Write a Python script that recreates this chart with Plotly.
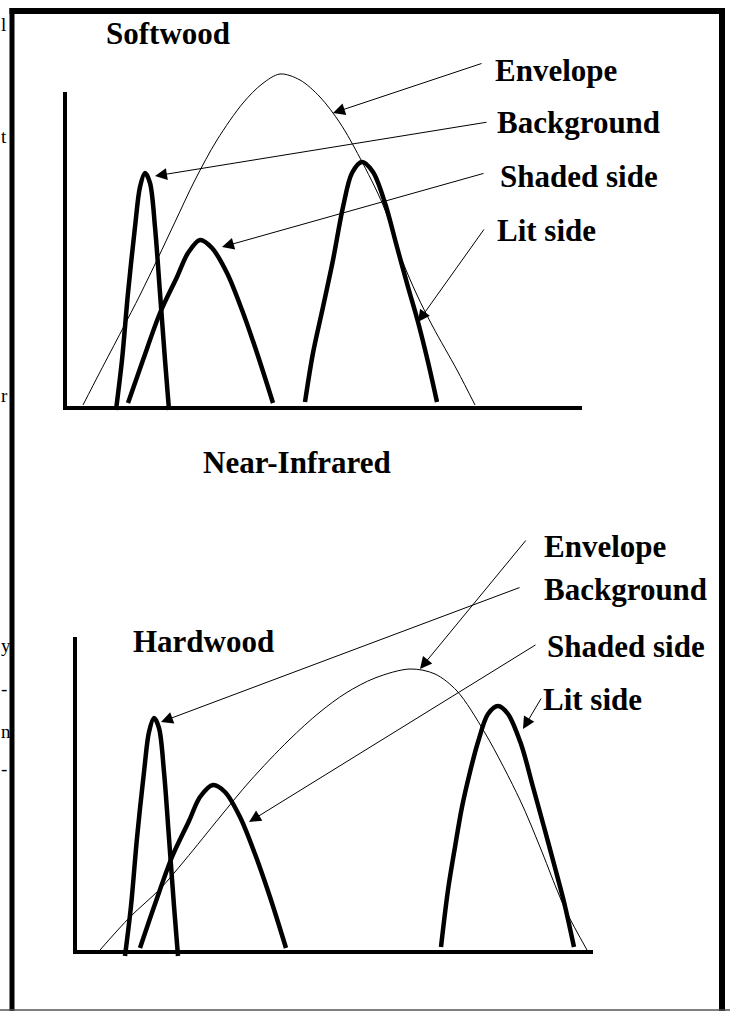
import plotly.graph_objects as go

W, H = 730, 1011

# ---------------- Softwood panel (units: arbitrary, origin at axes corner) ----------------
sw_env_x = [18, 35, 57, 75, 93, 110, 130, 152, 178, 197, 215, 235, 255, 275, 295, 318, 337, 352, 368, 392, 410]
sw_env_y = [3, 36, 78, 113, 150, 186, 228, 268, 305, 324, 334, 328, 311, 285, 250, 203, 148, 113, 81, 38, 3]

sw_bg_x = [51, 57, 63, 70, 75, 80, 85, 90, 95, 100, 104]
sw_bg_y = [-2, 48, 115, 181, 221, 235, 225, 181, 115, 48, -2]

sw_sh_x = [63, 78, 95, 112, 123, 135, 147, 162, 177, 192, 208]
sw_sh_y = [5, 48, 95, 131, 155, 168, 160, 135, 98, 55, 5]

sw_lit_x = [240, 248, 258, 268, 278, 287, 297, 308, 320, 332, 343, 353, 363, 372]
sw_lit_y = [6, 55, 101, 148, 201, 235, 246, 236, 205, 161, 121, 86, 46, 6]

# ---------------- Hardwood panel ----------------
hw_env_x = [25, 55, 85, 110, 145, 175, 214, 245, 271, 300, 335, 360, 382, 410, 445, 465, 482, 492, 512]
hw_env_y = [2, 35, 63, 92, 135, 171, 212, 240, 259, 274, 283, 278, 261, 219, 152, 105, 62, 39, 2]

hw_bg_x = [50, 56, 62, 69, 74, 79, 84, 89, 94, 99, 103]
hw_bg_y = [-4, 46, 114, 180, 220, 234, 224, 180, 114, 46, -4]

hw_sh_x = [65, 80, 97, 114, 125, 138, 150, 165, 180, 195, 211]
hw_sh_y = [4, 48, 95, 131, 155, 167, 160, 135, 98, 55, 4]

hw_lit_x = [366, 373, 380, 387, 395, 403, 413, 423, 433, 446, 458, 469, 479, 489, 499]
hw_lit_y = [5, 62, 105, 145, 180, 210, 238, 246, 238, 208, 165, 125, 88, 50, 5]

# axis extents (units)
sw_axis_len = 517
sw_axis_h = 316
hw_axis_len = 518
hw_axis_h = 315

labels = ["Envelope", "Background", "Shaded side", "Lit side"]
# arrow tips / tails in data units for each label
sw_tips = [(268, 295), (90, 232), (157, 161), (353, 86)]
sw_tails = [(418, 345), (423, 286), (420, 235), (420, 180)]
hw_tips = [(345, 283), (86, 230), (174, 130), (448, 223)]
hw_tails = [(452, 413), (446, 365), (462, 308), (467, 255)]

fig = go.Figure()


def add_curve(xs, ys, width, xa, ya):
    fig.add_trace(go.Scatter(
        x=xs, y=ys, mode="lines",
        line=dict(color="black", width=width, shape="spline", smoothing=0.9),
        xaxis=xa, yaxis=ya, hoverinfo="skip", showlegend=False))


add_curve(sw_env_x, sw_env_y, 1, "x", "y")
add_curve(sw_bg_x, sw_bg_y, 4.5, "x", "y")
add_curve(sw_sh_x, sw_sh_y, 4.5, "x", "y")
add_curve(sw_lit_x, sw_lit_y, 4.5, "x", "y")

add_curve(hw_env_x, hw_env_y, 1, "x2", "y2")
add_curve(hw_bg_x, hw_bg_y, 4.5, "x2", "y2")
add_curve(hw_sh_x, hw_sh_y, 4.5, "x2", "y2")
add_curve(hw_lit_x, hw_lit_y, 4.5, "x2", "y2")

# axes lines (drawn in data coordinates)
shapes = [
    dict(type="line", xref="x", yref="y", x0=0, y0=0, x1=0, y1=sw_axis_h, line=dict(color="black", width=4)),
    dict(type="line", xref="x", yref="y", x0=-2, y0=0, x1=sw_axis_len, y1=0, line=dict(color="black", width=4)),
    dict(type="line", xref="x2", yref="y2", x0=0, y0=0, x1=0, y1=hw_axis_h, line=dict(color="black", width=4)),
    dict(type="line", xref="x2", yref="y2", x0=-2, y0=0, x1=hw_axis_len, y1=0, line=dict(color="black", width=4)),
]


def px(x):
    return x / W


def py(y):
    return 1 - y / H


# page frame
shapes += [
    dict(type="line", xref="paper", yref="paper", x0=px(12), y0=py(8), x1=px(12), y1=py(1011), line=dict(color="black", width=5)),
    dict(type="line", xref="paper", yref="paper", x0=px(9.5), y0=py(11), x1=px(725), y1=py(11), line=dict(color="black", width=6)),
    dict(type="line", xref="paper", yref="paper", x0=px(722), y0=py(8), x1=px(722), y1=py(1011), line=dict(color="black", width=6)),
    dict(type="line", xref="paper", yref="paper", x0=0, y0=py(1010), x1=1, y1=py(1010), line=dict(color="#555555", width=1.5)),
]

annotations = []
for (tx, ty), (ax, ay) in zip(sw_tips, sw_tails):
    annotations.append(dict(x=tx, y=ty, ax=ax, ay=ay, xref="x", yref="y", axref="x", ayref="y",
                            text="", showarrow=True, arrowhead=2, arrowsize=2.4, arrowwidth=1,
                            arrowcolor="black", standoff=0))
for (tx, ty), (ax, ay) in zip(hw_tips, hw_tails):
    annotations.append(dict(x=tx, y=ty, ax=ax, ay=ay, xref="x2", yref="y2", axref="x2", ayref="y2",
                            text="", showarrow=True, arrowhead=2, arrowsize=2.4, arrowwidth=1,
                            arrowcolor="black", standoff=0))

FONT = "Liberation Serif"
BIG = 31


def label(text, x, y, anchor="left", size=BIG, bold=True):
    annotations.append(dict(x=px(x), y=py(y), xref="paper", yref="paper",
                            text=f"<b>{text}</b>" if bold else text, showarrow=False,
                            xanchor=anchor, yanchor="middle",
                            font=dict(family=FONT, size=size, color="black")))


sw_label_pos = [(493, 70), (495, 123), (498, 177), (495, 230)]
hw_label_pos = [(542, 546), (542, 589), (545, 646), (541, 699)]
for t, (x, y) in zip(labels, sw_label_pos):
    label(t, x, y)
for t, (x, y) in zip(labels, hw_label_pos):
    label(t, x, y)

label("Softwood", 168, 33, anchor="center")
label("Hardwood", 203, 641, anchor="center")
label("Near-Infrared", 297, 462, anchor="center")

# text fragments from the neighbouring page at the left edge
fragments = [("l", 24), ("t", 136), ("r", 395), ("y", 645), ("-", 688), ("n", 731), ("-", 768)]
for t, y in fragments:
    label(t, -1.5, y, anchor="left", size=19, bold=False)

fig.update_layout(
    width=W, height=H,
    margin=dict(l=0, r=0, t=0, b=0),
    paper_bgcolor="white", plot_bgcolor="rgba(0,0,0,0)",
    showlegend=False,
    xaxis=dict(domain=[px(20), px(710)], range=[-45, 645], visible=False, fixedrange=True),
    yaxis=dict(domain=[py(430), py(30)], range=[-22, 378], visible=False, fixedrange=True),
    xaxis2=dict(domain=[px(20), px(710)], range=[-55, 635], visible=False, fixedrange=True, anchor="y2"),
    yaxis2=dict(domain=[py(990), py(520)], range=[-38, 432], visible=False, fixedrange=True, anchor="x2"),
    shapes=shapes,
    annotations=annotations,
)

fig.write_html("out.html", config={"displayModeBar": False},
               post_script="document.body.style.margin='0';document.body.style.overflow='hidden';")
